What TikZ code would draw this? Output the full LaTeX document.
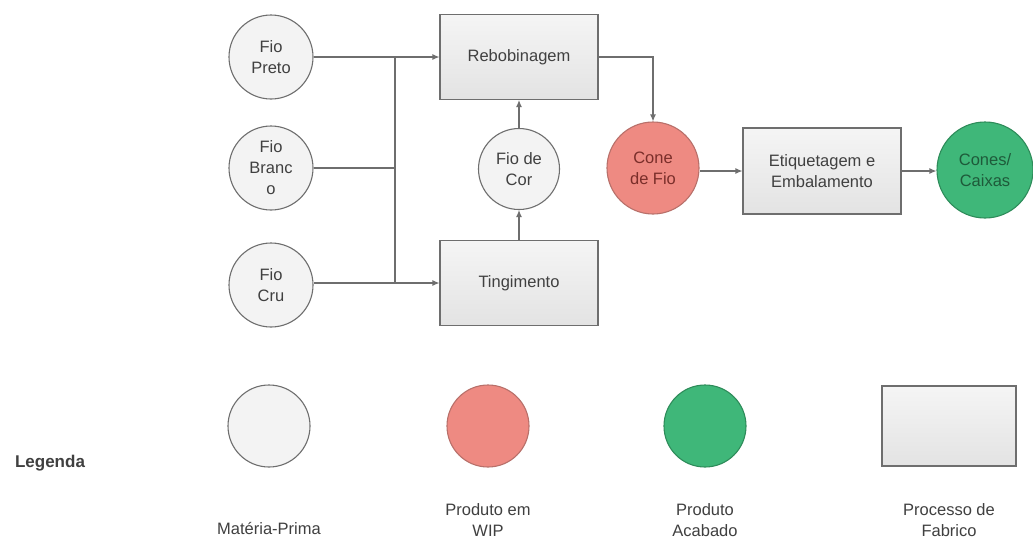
\documentclass[tikz,border=0pt]{standalone}
\usepackage{fontspec}
\setmainfont{Liberation Sans}
\usetikzlibrary{arrows.meta}
\definecolor{lineg}{HTML}{6E6E6E}
\definecolor{txtg}{HTML}{404040}
\definecolor{rawfill}{HTML}{F3F3F3}
\definecolor{wipfill}{HTML}{EE8A82}
\definecolor{wipdraw}{HTML}{B8706A}
\definecolor{wiptxt}{HTML}{7A2E2A}
\definecolor{fgfill}{HTML}{3FB779}
\definecolor{fgdraw}{HTML}{2E8C5A}
\definecolor{fgtxt}{HTML}{1E5A3A}
\begin{document}
\begin{tikzpicture}[x=1pt,y=-1pt,
  lbl/.style={font=\fontsize{16.5}{21}\selectfont, text=txtg, align=center},
  rawmat/.style={circle, draw=lineg, line width=1.1pt, fill=rawfill, minimum size=84pt, inner sep=0pt, lbl},
  wip/.style={circle, draw=wipdraw, line width=1.1pt, fill=wipfill, minimum size=92pt, inner sep=0pt, lbl, text=wiptxt},
  fg/.style={circle, draw=fgdraw, line width=1.1pt, fill=fgfill, minimum size=96pt, inner sep=0pt, lbl, text=fgtxt},
  proc/.style={rectangle, draw=lineg, line width=1.1pt, top color=white!96!black, bottom color=white!89!black, minimum width=158pt, minimum height=85pt, inner sep=0pt, lbl},
  conn/.style={draw=lineg, line width=1.1pt},
  arr/.style={conn, -{Latex[length=7pt,width=6pt]}}
]
\useasboundingbox (0,0) rectangle (1033,539);
\fill[white] (0,0) rectangle (1033,539);

% raw materials
\node[rawmat] (preto) at (271,57) {Fio\\Preto};
\node[rawmat] (branco) at (271,168) {Fio\\Branc\\o};
\node[rawmat] (cru) at (271,285) {Fio\\Cru};

% processes
\node[proc] (rebob) at (519,57) {Rebobinagem};
\node[proc] (ting) at (519,283) {Tingimento};
\node[rawmat, minimum size=81pt] (cor) at (519,169) {Fio de\\Cor};
\node[wip] (cone) at (653,168) {Cone\\de Fio};
\node[proc, minimum height=86pt] (etiq) at (822,171) {Etiquetagem e\\Embalamento};
\node[fg] (caixas) at (985,170) {Cones/\\Caixas};

% junctions
\coordinate (jt) at (395,57);
\coordinate (jb) at (395,283);

% connectors
\draw[arr] (preto.east) -- (rebob.west);
\draw[conn] (jt) -- (jb);
\draw[conn] (branco.east) -- (branco.east -| jt);
\draw[arr] (cru.east |- ting.west) -- (ting.west);
\draw[arr] (ting.north) -- (cor.south);
\draw[arr] (cor.north) -- (rebob.south);
\draw[arr] (rebob.east) -| (cone.north);
\draw[arr] (cone.east |- etiq.west) -- (etiq.west);
\draw[arr] (etiq.east) -- (caixas.west |- etiq.east);

% legend
\node[lbl, font=\fontsize{17}{21}\selectfont\bfseries, text=txtg] (leg) at (50,463) {Legenda};
\node[rawmat, minimum size=82pt] (lraw) at (269,426) {};
\node[wip, minimum size=82pt] (lwip) at (488,426) {};
\node[fg, minimum size=82pt] (lfg) at (705,426) {};
\node[proc, minimum width=134pt, minimum height=80pt] (lproc) at (949,426) {};
\node[lbl] (traw) at (269,528) {Matéria-Prima};
\node[lbl] (twip) at (488,520) {Produto em\\WIP};
\node[lbl] (tfg) at (705,520) {Produto\\Acabado};
\node[lbl] (tproc) at (949,520) {Processo de\\Fabrico};
\end{tikzpicture}
\end{document}
